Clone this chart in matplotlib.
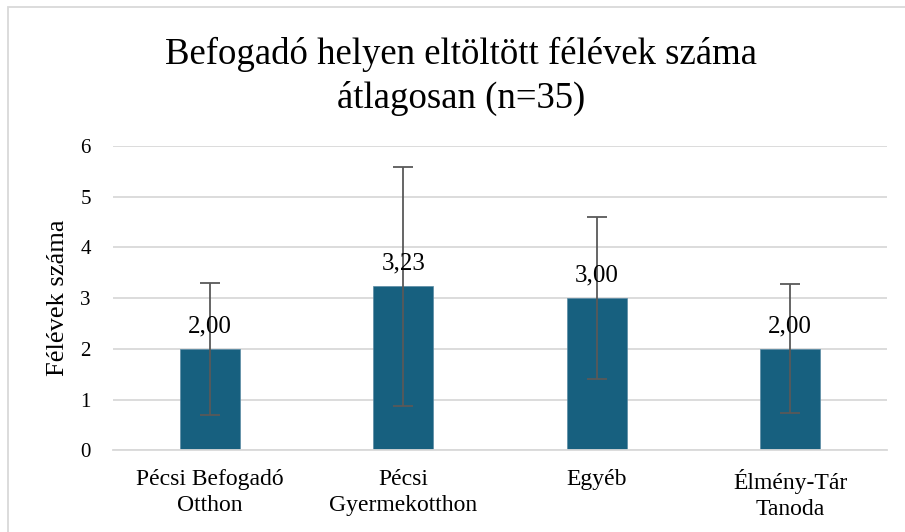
import numpy as np
import matplotlib.pyplot as plt
from matplotlib.patches import Rectangle

kategoriak = ['Pécsi Befogadó\nOtthon', 'Pécsi\nGyermekotthon', 'Egyéb', 'Élmény-Tár\nTanoda']
atlag = [2.00, 3.23, 3.00, 2.00]
szoras = [1.30, 2.35, 1.60, 1.27]
felirat = ['2,00', '3,23', '3,00', '2,00']

plt.rcParams['font.family'] = ['Liberation Serif', 'DejaVu Serif']

fig = plt.figure(figsize=(9.05, 5.32), dpi=100)
ax = fig.add_axes([0.1249, 0.1536, 0.8551, 0.572])

# keret (csak bal és felső él látszik)
fig.patches.append(Rectangle((8 / 905, -0.1), 1.2, (532 - 7) / 532 + 0.1, transform=fig.transFigure,
                             fill=False, edgecolor='#d9d9d9', linewidth=1.3))

x = np.arange(len(kategoriak))
ax.bar(x, atlag, width=0.31, color='#17607f', edgecolor='#5a8aa3', linewidth=0.5, zorder=2)
ax.errorbar(x, atlag, yerr=szoras, fmt='none', ecolor='#595959', elinewidth=1.3,
            capsize=7, capthick=1.3, zorder=3)

for xi, v, s in zip(x, atlag, felirat):
    ax.annotate(s, (xi, v), xytext=(0, 12), textcoords='offset points',
                ha='center', va='baseline', fontsize=18, zorder=4)

ax.set_xlim(-0.5, 3.5)
ax.set_ylim(0, 6)
ax.set_yticks(range(7))
ax.set_xticks(x)
ax.set_xticklabels(kategoriak, fontsize=17, linespacing=1.3)
ax.tick_params(axis='y', length=0, pad=16, labelsize=15)
ax.tick_params(axis='x', length=0, pad=13.5)
ax.grid(axis='y', color='#d9d9d9', linewidth=1.3, zorder=0)
ax.set_axisbelow(True)
for sp in ['top', 'right', 'left']:
    ax.spines[sp].set_visible(False)
ax.spines['bottom'].set_color('#d9d9d9')
ax.spines['bottom'].set_linewidth(1.3)

ax.set_ylabel('Félévek száma', fontsize=19, labelpad=8)
fig.text(0.509, 0.856, 'Befogadó helyen eltöltött félévek száma\nátlagosan (n=35)',
         ha='center', va='center', fontsize=26.5, linespacing=1.35)

fig.savefig('out.png', dpi=100)
